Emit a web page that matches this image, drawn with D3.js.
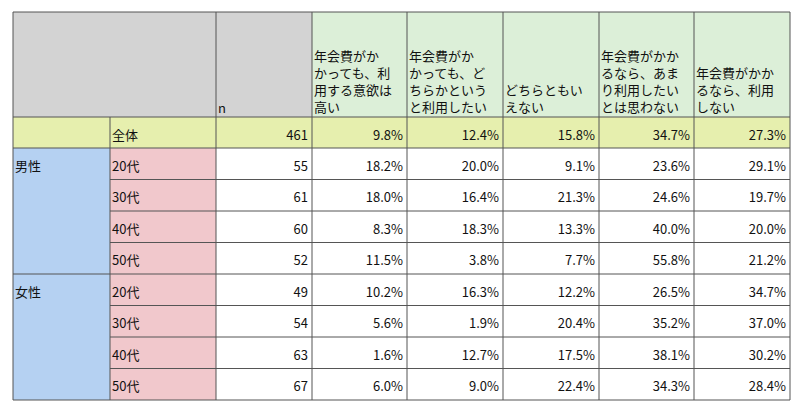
<!DOCTYPE html><html><head><meta charset="utf-8"><script src="https://cdn.jsdelivr.net/npm/d3@7"></script>
<style>body{margin:0;background:#fff}</style></head><body><svg id="c" width="800" height="415"></svg>
<script>
const headers=[["年会費がか","かっても、利","用する意欲は","高い"],["年会費がか","かっても、ど","ちらかという","と利用したい"],["どちらともい","えない"],["年会費がかか","るなら、あま","り利用したい","とは思わない"],["年会費がかか","るなら、利用","しない"]];
const genders=["男性","女性"];
const ages=["20代","30代","40代","50代"];
const totalN=461, totalVals=[9.8,12.4,15.8,34.7,27.3];
const nVals=[55,61,60,52,49,54,63,67];
const vals=[[18.2,20.0,9.1,23.6,29.1],[18.0,16.4,21.3,24.6,19.7],[8.3,18.3,13.3,40.0,20.0],[11.5,3.8,7.7,55.8,21.2],
[10.2,16.3,12.2,26.5,34.7],[5.6,1.9,20.4,35.2,37.0],[1.6,12.7,17.5,38.1,30.2],[6.0,9.0,22.4,34.3,28.4]];
(function(){
const svg=d3.select("#c");
const font="'Noto Sans CJK JP',sans-serif";
const colX=[13,110,216,312,407,503,599,694,790];
const x=i=>colX[i];
const y=d3.scaleLinear().domain([0,8]).range([148,400]);
const topY=12,hb=117;
const line="#555";
function rect(x0,y0,x1,y1,f){svg.append("rect").attr("x",x0).attr("y",y0).attr("width",x1-x0).attr("height",y1-y0).attr("fill",f);}
function ln(x0,y0,x1,y1){svg.append("line").attr("x1",x0).attr("y1",y0).attr("x2",x1).attr("y2",y1).attr("stroke",line).attr("stroke-width",1);}
function txt(s,xx,yy,anchor){svg.append("text").attr("x",xx).attr("y",yy).attr("text-anchor",anchor||"start").attr("font-family",font).attr("font-size",13).attr("fill","#111").text(s);}
rect(x(0),topY,x(3),hb,"#d3d3d3");
rect(x(3),topY,x(8),hb,"#dcefd8");
rect(x(0),hb,x(8),y(0),"#e6efae");
rect(x(0),y(0),x(1),y(8),"#b5d1f2");
rect(x(1),y(0),x(2),y(8),"#f1c8cc");
headers.forEach((h,i)=>{h.forEach((s,j)=>txt(s,x(3+i)+2,hb-5-(h.length-1-j)*17));});
txt("n",x(2)+2,hb-4);
txt("全体",x(1)+2,y(0)-8);
txt(totalN,x(3)-4,y(0)-8,"end");
totalVals.forEach((v,i)=>txt(v.toFixed(1)+"%",x(4+i)-4,y(0)-8,"end"));
vals.forEach((r,k)=>{const yy=y(k+1)-9;
 txt(ages[k%4],x(1)+2,yy);
 txt(nVals[k],x(3)-4,yy,"end");
 r.forEach((v,i)=>txt(v.toFixed(1)+"%",x(4+i)-4,yy,"end"));});
genders.forEach((g,i)=>txt(g,x(0)+2,y(i*4+1)-9));
ln(x(0),topY,x(8),topY);ln(x(0),hb,x(8),hb);ln(x(0),y(0),x(8),y(0));
for(let k=1;k<8;k++){ln(x(k==4?0:1),y(k),x(8),y(k));}
ln(x(0),y(8),x(8),y(8));
ln(x(0),topY,x(0),y(8));ln(x(1),hb,x(1),y(8));
for(let i=2;i<=8;i++)ln(x(i),topY,x(i),y(8));
})();
</script></body></html>
